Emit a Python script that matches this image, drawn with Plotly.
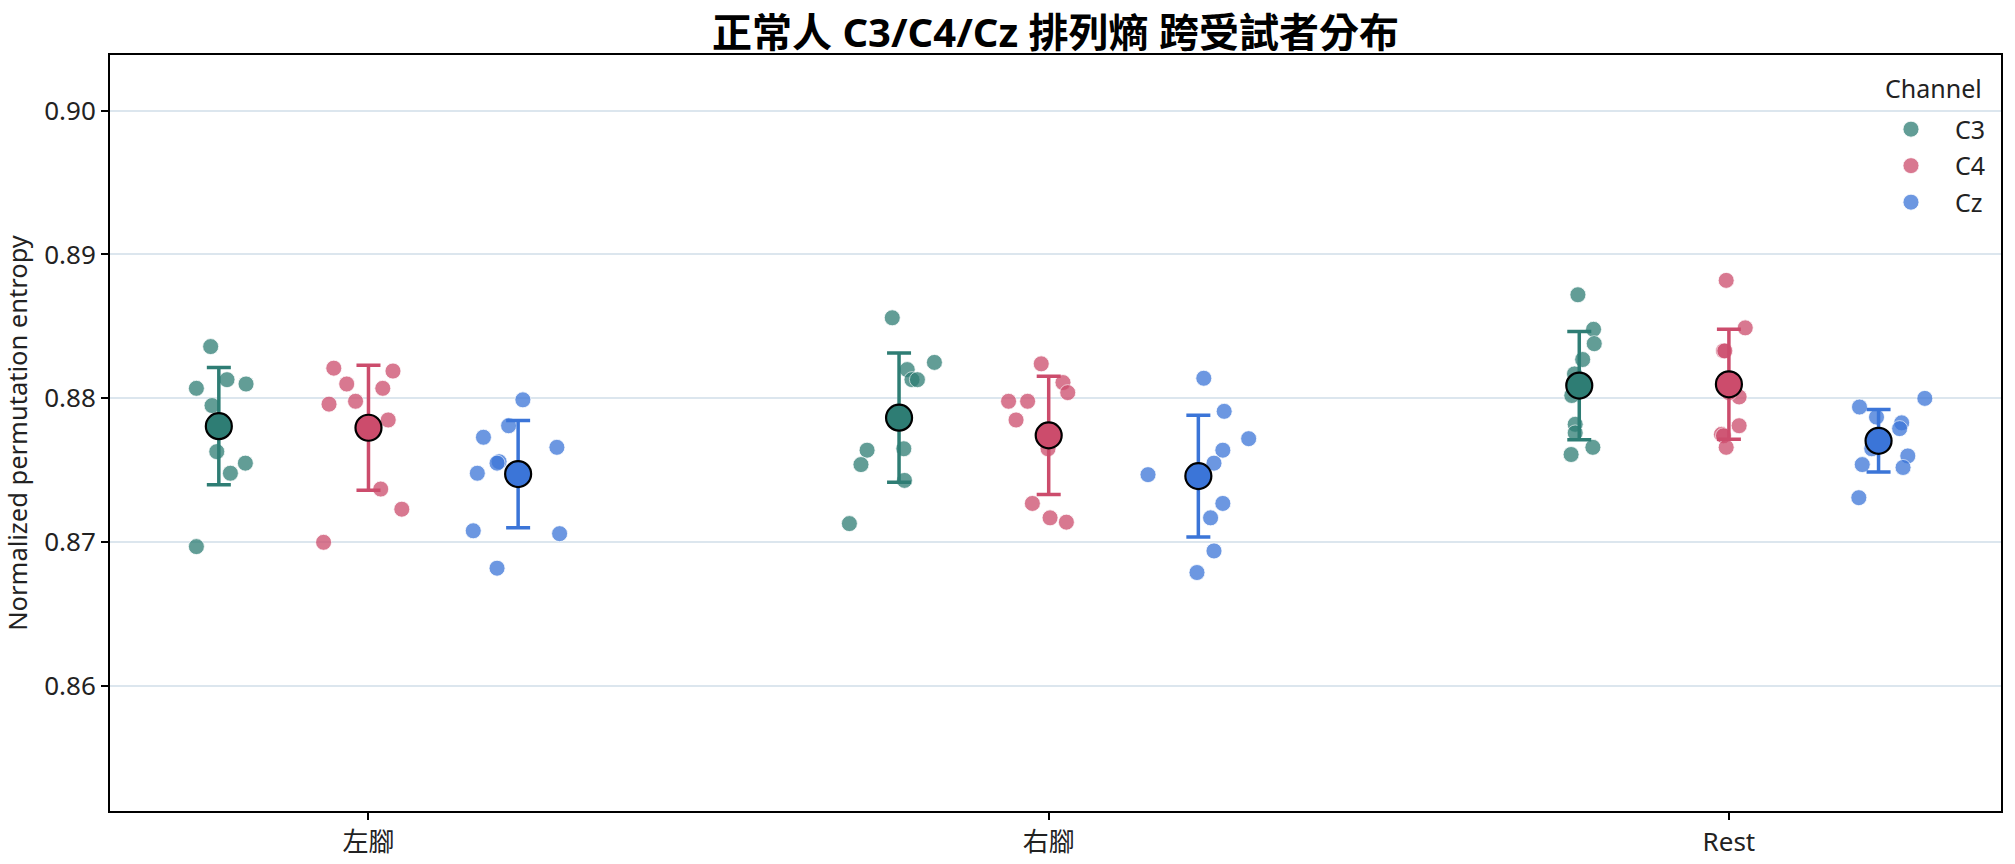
import numpy as np
import plotly.graph_objects as go

conditions = ["左腳", "右腳", "Rest"]
channels = ["C3", "C4", "Cz"]

# subject values per channel, per condition (左腳, 右腳, Rest)
c3_vals = [
    [0.8836, 0.8807, 0.8813, 0.8810, 0.8795, 0.8763, 0.8755, 0.8748, 0.8697, 0.8783],
    [0.8856, 0.8825, 0.8820, 0.8813, 0.8813, 0.8764, 0.8754, 0.8765, 0.8743, 0.8713],
    [0.8872, 0.8848, 0.8838, 0.8827, 0.8817, 0.8802, 0.8782, 0.8776, 0.8766, 0.8761],
]
c4_vals = [
    [0.8821, 0.8819, 0.8810, 0.8807, 0.8796, 0.8798, 0.8785, 0.8737, 0.8723, 0.8700],
    [0.8824, 0.8811, 0.8804, 0.8798, 0.8798, 0.8785, 0.8765, 0.8727, 0.8717, 0.8714],
    [0.8882, 0.8849, 0.8833, 0.8833, 0.8801, 0.8781, 0.8775, 0.8774, 0.8766, 0.8804],
]
cz_vals = [
    [0.8799, 0.8781, 0.8773, 0.8766, 0.8756, 0.8755, 0.8748, 0.8708, 0.8706, 0.8682],
    [0.8814, 0.8791, 0.8772, 0.8764, 0.8755, 0.8747, 0.8727, 0.8717, 0.8694, 0.8679],
    [0.8800, 0.8794, 0.8787, 0.8783, 0.8779, 0.8765, 0.8760, 0.8754, 0.8752, 0.8731],
]

# horizontal jitter of each subject point (category units)
c3_jit = [
    [-0.012, -0.033, 0.012, 0.040, -0.010, -0.003, 0.039, 0.017, -0.033, 0.001],
    [-0.010, 0.052, 0.012, 0.019, 0.027, -0.047, -0.056, 0.007, 0.008, -0.073],
    [-0.002, 0.021, 0.022, 0.005, -0.007, -0.011, -0.006, -0.006, 0.020, -0.012],
]
c4_jit = [
    [-0.051, 0.036, -0.032, 0.021, -0.058, -0.019, 0.029, 0.018, 0.049, -0.066],
    [-0.011, 0.021, 0.028, -0.059, -0.031, -0.048, -0.001, -0.024, 0.002, 0.026],
    [-0.004, 0.024, -0.008, -0.006, 0.015, 0.015, -0.011, -0.008, -0.004, 0.000],
]
cz_jit = [
    [0.007, -0.014, -0.051, 0.057, -0.028, -0.031, -0.060, -0.066, 0.061, -0.031],
    [0.008, 0.038, 0.074, 0.036, 0.023, -0.074, 0.036, 0.018, 0.023, -0.002],
    [0.068, -0.028, -0.003, 0.034, 0.031, -0.010, 0.043, -0.024, 0.036, -0.029],
]

y_ticks = [0.86, 0.87, 0.88, 0.89, 0.90]
y_tick_text = ["0.86", "0.87", "0.88", "0.89", "0.90"]

all_vals = {"C3": c3_vals, "C4": c4_vals, "Cz": cz_vals}
all_jit = {"C3": c3_jit, "C4": c4_jit, "Cz": cz_jit}
offsets = {"C3": -0.22, "C4": 0.0, "Cz": 0.22}
colors = {"C3": "#2E7D74", "C4": "#CC4C6C", "Cz": "#3B75D8"}

FONT = "Noto Sans, Noto Sans CJK TC, sans-serif"
FS = 25

fig = go.Figure()

# subject points
for ch in channels:
    xs, ys = [], []
    for ci in range(len(conditions)):
        for v, j in zip(all_vals[ch][ci], all_jit[ch][ci]):
            xs.append(ci + offsets[ch] + j)
            ys.append(v)
    fig.add_trace(go.Scatter(
        x=xs, y=ys, mode="markers", name=ch, legendgroup=ch,
        marker=dict(size=16, color=colors[ch], opacity=0.75,
                    line=dict(color="white", width=0.8)),
        hoverinfo="y",
    ))

# means with SD error bars
for ch in channels:
    means = [float(np.mean(v)) for v in all_vals[ch]]
    sds = [float(np.std(v, ddof=1)) for v in all_vals[ch]]
    xs = [ci + offsets[ch] for ci in range(len(conditions))]
    fig.add_trace(go.Scatter(
        x=xs, y=means, mode="markers", showlegend=False, legendgroup=ch,
        marker=dict(size=26, color=colors[ch], line=dict(color="black", width=2.2)),
        error_y=dict(type="data", array=sds, visible=True, color=colors[ch],
                     thickness=3.5, width=12),
    ))

fig.update_layout(
    width=2015, height=864,
    margin=dict(l=110, r=14, t=55, b=53, autoexpand=False),
    paper_bgcolor="white", plot_bgcolor="white",
    font=dict(family=FONT, size=FS, color="#222222"),
    title=dict(text="<b>正常人 C3/C4/Cz 排列熵 跨受試者分布</b>",
               x=0.5, xref="paper", xanchor="center", y=0.962, yanchor="middle",
               font=dict(family=FONT, size=40, color="black")),
    showlegend=True,
    legend=dict(
        x=0.9947, xanchor="right", y=0.932, yanchor="top",
        bgcolor="rgba(0,0,0,0)", font=dict(size=FS),
        itemsizing="trace", itemwidth=78, tracegroupgap=1,
    ),
    annotations=[dict(
        text="Channel", xref="paper", yref="paper", x=0.991, y=0.957,
        xanchor="right", yanchor="middle", showarrow=False,
        font=dict(size=FS, color="#222222"),
    )],
)
fig.update_xaxes(
    range=[-0.38, 2.40], tickmode="array", tickvals=[0, 1, 2], ticktext=conditions,
    showgrid=False, zeroline=False, showline=True, linecolor="black", linewidth=2,
    mirror=True, ticks="outside", ticklen=7, tickwidth=2, tickcolor="black",
    tickfont=dict(size=26, color="#222222"), automargin=False,
)
fig.update_yaxes(
    range=[0.85133, 0.90386], tickmode="array", tickvals=y_ticks, ticktext=y_tick_text,
    showgrid=True, gridcolor="#DCE6EE", gridwidth=1.5, zeroline=False,
    showline=True, linecolor="black", linewidth=2, mirror=True,
    ticks="outside", ticklen=7, tickwidth=2, tickcolor="black",
    tickfont=dict(size=26, color="#222222"), automargin=False,
    title=dict(text="Normalized permutation entropy", font=dict(size=25.5, color="#222222"), standoff=9),
)

fig.write_html("out.html")
